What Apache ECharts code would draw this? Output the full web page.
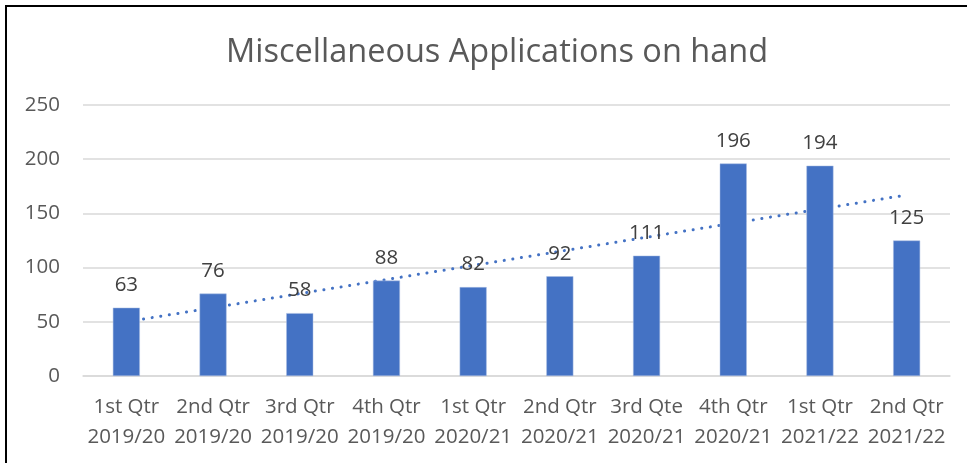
<!DOCTYPE html>
<html>
<head>
<meta charset="utf-8">
<script src="https://cdn.jsdelivr.net/npm/echarts@6/dist/echarts.min.js"></script>
<style>
  html, body { margin: 0; padding: 0; background: #fff; }
  #chart { width: 967px; height: 463px; }
</style>
</head>
<body>
<div id="chart"></div>
<script>
var quarters = ['1st Qtr', '2nd Qtr', '3rd Qtr', '4th Qtr', '1st Qtr', '2nd Qtr', '3rd Qte', '4th Qtr', '1st Qtr', '2nd Qtr'];
var years = ['2019/20', '2019/20', '2019/20', '2019/20', '2020/21', '2020/21', '2020/21', '2020/21', '2021/22', '2021/22'];
var onHand = [63, 76, 58, 88, 82, 92, 111, 196, 194, 125];
// trendline: start and end only
var trend = [50, null, null, null, null, null, null, null, null, 167];
var yTicks = [0, 50, 100, 150, 200, 250];

var categories = quarters.map(function (q, i) {
    return q + '\n' + years[i];
});

var myChart = echarts.init(document.getElementById('chart'));
var font = '"Open Sans", sans-serif';

var option = {
    animation: false,
    title: {
        text: 'Miscellaneous Applications on hand',
        left: 221,
        top: 31,
        textStyle: {
            fontFamily: font,
            fontSize: 32.5,
            fontWeight: 'normal',
            color: '#595959'
        }
    },
    graphic: [{
        type: 'rect',
        shape: { x: 6, y: 6, width: 980, height: 480 },
        style: { fill: 'none', stroke: '#000', lineWidth: 2 },
        silent: true
    }],
    grid: {
        left: 83,
        right: 17,
        top: 105,
        bottom: 87
    },
    xAxis: {
        type: 'category',
        data: categories,
        axisLine: { lineStyle: { color: '#d9d9d9', width: 1.5 } },
        axisTick: { show: false },
        axisLabel: {
            interval: 0,
            margin: 16,
            fontFamily: font,
            fontSize: 20.5,
            lineHeight: 30,
            color: '#595959'
        }
    },
    yAxis: {
        type: 'value',
        min: yTicks[0],
        max: yTicks[yTicks.length - 1],
        interval: 50,
        axisLine: { show: false },
        axisTick: { show: false },
        splitLine: { lineStyle: { color: '#d9d9d9', width: 1.5 } },
        axisLabel: {
            margin: 23,
            fontFamily: font,
            fontSize: 20.5,
            color: '#595959'
        }
    },
    series: [
        {
            name: 'Trend',
            type: 'line',
            data: trend,
            connectNulls: true,
            symbol: 'none',
            z: 1,
            lineStyle: {
                color: '#4472c4',
                width: 3,
                type: [0.1, 8.6],
                cap: 'round'
            }
        },
        {
            name: 'Applications on hand',
            type: 'bar',
            data: onHand,
            barWidth: 27,
            z: 3,
            itemStyle: {
                color: '#4472c4',
                borderColor: '#a9bde3',
                borderWidth: 0.5
            },
            label: {
                show: true,
                position: 'top',
                distance: 12,
                fontFamily: font,
                fontSize: 20.5,
                color: '#404040'
            }
        }
    ]
};

myChart.setOption(option);
</script>
</body>
</html>
